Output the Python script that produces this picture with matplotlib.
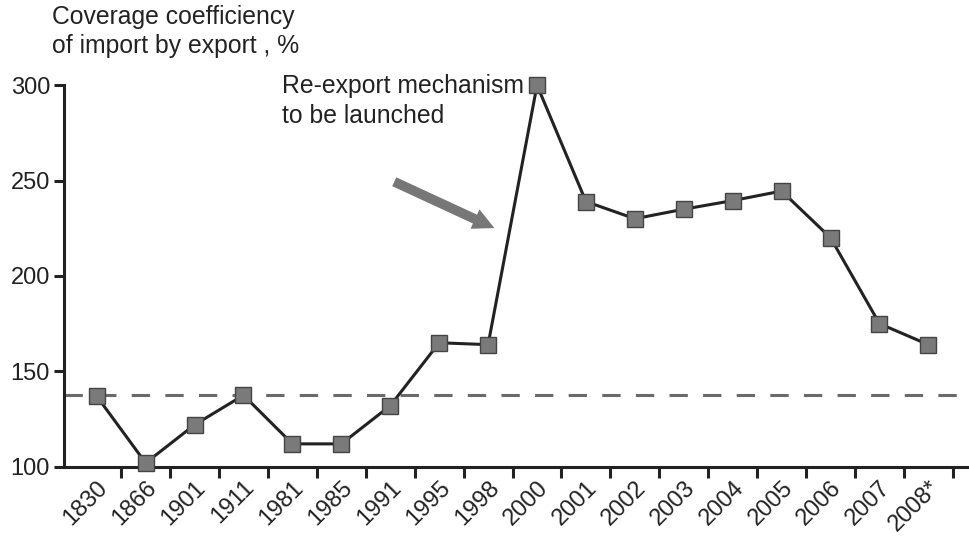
import numpy as np
import matplotlib
matplotlib.use("Agg")
import matplotlib.pyplot as plt
import matplotlib.transforms as mtransforms

plt.rcParams['font.family'] = ['Liberation Sans', 'DejaVu Sans']

years = ['1830', '1866', '1901', '1911', '1981', '1985', '1991', '1995', '1998',
         '2000', '2001', '2002', '2003', '2004', '2005', '2006', '2007', '2008*']
coverage = [137, 102, 122, 137.5, 112, 112, 132, 165, 164,
            300, 239, 230, 235, 239.5, 244.5, 220, 175, 164]
reference_level = 137.5

x = np.arange(len(years))

fig = plt.figure(figsize=(9.69, 5.39), dpi=100)
ax = fig.add_axes([0.066, 0.134, 0.934, 0.708])

ax.axhline(reference_level, color='#6a6a6a', lw=2.2, dashes=(6, 5), zorder=1)
ax.plot(x, coverage, color='#222222', lw=2.2, marker='s', markersize=11.5,
        markerfacecolor='#7a7a7a', markeredgecolor='#444444', markeredgewidth=1,
        zorder=3, clip_on=False)

ax.set_xlim(-0.67, 17.83)
ax.set_ylim(100, 300)
ax.set_yticks([100, 150, 200, 250, 300])

# boundary ticks (no labels) + labels at the points
ax.set_xticks(x + 0.5)
ax.set_xticklabels([])
ax.set_xticks(x, minor=True)
ax.set_xticklabels(years, minor=True, rotation=45, ha='right', va='top',
                   rotation_mode='anchor', fontsize=17, color='#222222')
shift = mtransforms.ScaledTranslation(-9 / 100, 0, fig.dpi_scale_trans)
for lab in ax.get_xticklabels(minor=True):
    lab.set_transform(lab.get_transform() + shift)
ax.tick_params(axis='x', which='major', length=8, width=2.2, color='#222222')
ax.tick_params(axis='x', which='minor', length=0, pad=7)
ax.tick_params(axis='y', length=7, width=2.2, color='#222222',
               labelsize=17, labelcolor='#222222', pad=3)

for s in ['top', 'right']:
    ax.spines[s].set_visible(False)
for s in ['left', 'bottom']:
    ax.spines[s].set_linewidth(2.2)
    ax.spines[s].set_color('#222222')

fig.text(0.054, 0.99, 'Coverage coefficiency\nof import by export , %',
         fontsize=17.8, va='top', ha='left', color='#222222', linespacing=1.25)
fig.text(0.291, 0.862, 'Re-export mechanism\nto be launched',
         fontsize=17.8, va='top', ha='left', color='#222222', linespacing=1.3)

ax.annotate('', xy=(8.18, 224.5), xytext=(6.03, 250),
            arrowprops=dict(arrowstyle='simple,head_width=1.1,head_length=1.1,tail_width=0.5',
                            color='#777777', lw=0, mutation_scale=14))

fig.savefig('out.png', dpi=100)
